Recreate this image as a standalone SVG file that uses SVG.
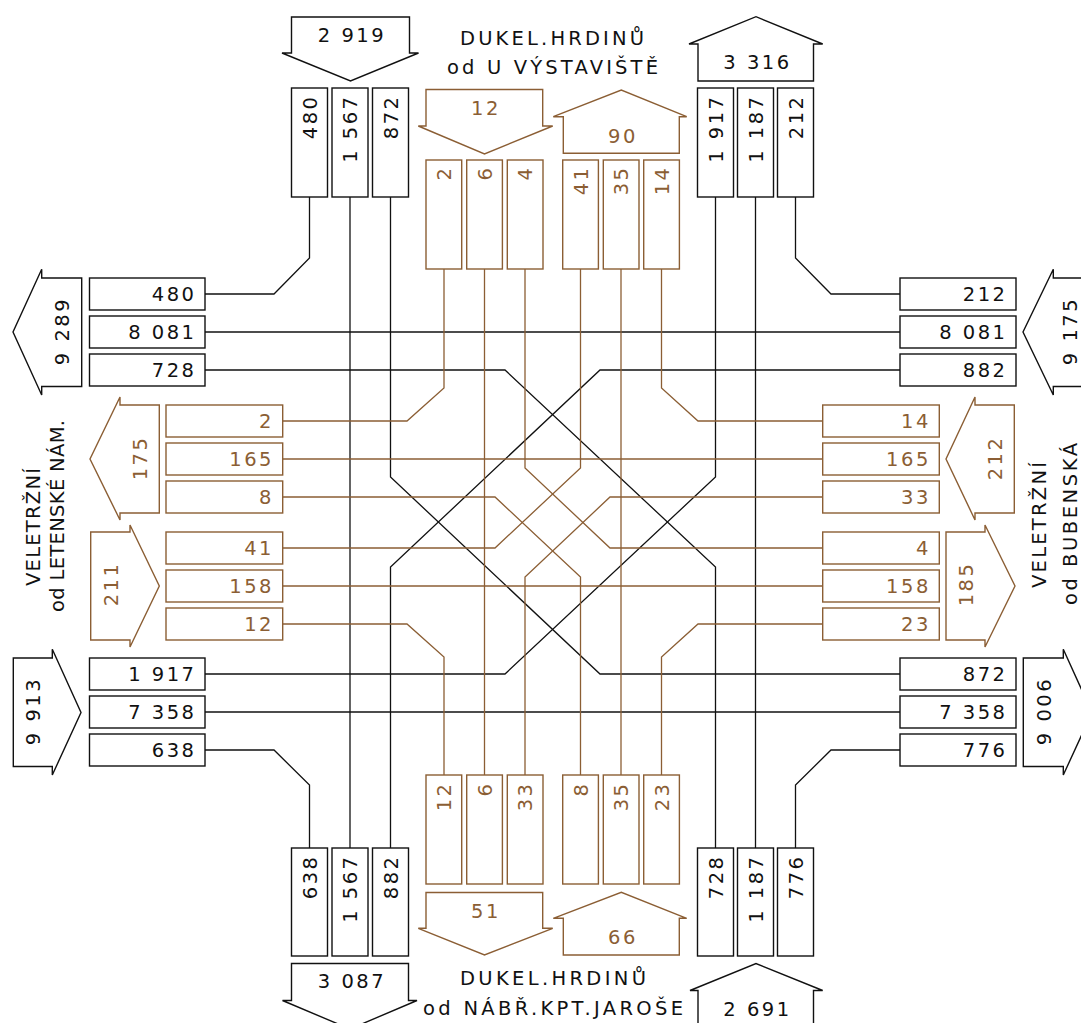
<svg xmlns="http://www.w3.org/2000/svg" width="1081" height="1023" viewBox="0 0 1081 1023">
<style>
.b{fill:#fff;stroke:#111;stroke-width:1.4}
.o{fill:#fff;stroke:#8B5E34;stroke-width:1.4}
.lb{fill:none;stroke:#111;stroke-width:1.3}
.lo{fill:none;stroke:#8B5E34;stroke-width:1.3}
text{font-family:"DejaVu Sans","Liberation Sans",sans-serif;font-size:19.5px;letter-spacing:2.5px;fill:#111}
.to{fill:#8B5E34}
.e{text-anchor:end}
.m{text-anchor:middle}
.lab{letter-spacing:0;font-size:19.5px}
</style>
<rect width="1081" height="1023" fill="#fff"/>

<g id="connectors">
<g class="lb">
<path d="M309.5,197 V258 L274,294 H205"/>
<path d="M350,197 V848"/>
<path d="M390.5,197 V477 L600,674 H900"/>
<path d="M715.5,197 V477 L505,674 H205"/>
<path d="M755.5,197 V848"/>
<path d="M795.5,197 V258 L831,294 H900"/>
<path d="M205,332 H900"/>
<path d="M205,370 H505 L715.5,567 V848"/>
<path d="M900,370 H600 L390.5,567 V848"/>
<path d="M205,712 H900"/>
<path d="M205,750 H274 L309.5,785 V848"/>
<path d="M900,750 H831 L795.5,785 V848"/>
</g>
<g class="lo">
<path d="M444,269 V388 L407,421 H282.7"/>
<path d="M484.5,269 V775"/>
<path d="M525,269 V468 L610,548 H822.7"/>
<path d="M580.5,269 V468 L495,548 H282.7"/>
<path d="M621,269 V775"/>
<path d="M661.5,269 V388 L698,421 H822.7"/>
<path d="M282.7,459 H822.7"/>
<path d="M282.7,586 H822.7"/>
<path d="M282.7,497 H495 L580.5,577 V775"/>
<path d="M822.7,497 H610 L525,577 V775"/>
<path d="M282.7,624 H407 L444,657 V775"/>
<path d="M822.7,624 H698 L661.5,657 V775"/>
</g>
</g>

<g id="label-north">
<text class="lab" x="460" y="45" textLength="184" lengthAdjust="spacing">DUKEL.HRDINŮ</text>
<text class="lab" x="447" y="74" textLength="211" lengthAdjust="spacing">od U VÝSTAVIŠTĚ</text>
</g>
<g id="label-south">
<text class="lab" x="460" y="985" textLength="186" lengthAdjust="spacing">DUKEL.HRDINŮ</text>
<text class="lab" x="423" y="1015" textLength="260" lengthAdjust="spacing">od NÁBŘ.KPT.JAROŠE</text>
</g>
<g id="label-west">
<text class="lab" transform="translate(40,586) rotate(-90)" textLength="118" lengthAdjust="spacing">VELETRŽNÍ</text>
<text class="lab" transform="translate(64,612) rotate(-90)" textLength="192" lengthAdjust="spacing">od LETENSKÉ NÁM.</text>
</g>
<g id="label-east">
<text class="lab" transform="translate(1046,588) rotate(-90)" textLength="126" lengthAdjust="spacing">VELETRŽNÍ</text>
<text class="lab" transform="translate(1077,605) rotate(-90)" textLength="162" lengthAdjust="spacing">od BUBENSKÁ</text>
</g>

<g id="arrow-2919"><path class="b" d="M291.5,17 H409.5 V53 H418.5 L350.5,81 L282,53 H291.5 Z"/><text class="m" x="352" y="42">2 919</text></g>
<g id="arrow-3316"><path class="b" d="M698,81 V44 H689 L756,16.7 L822.7,44 H813.5 V81 Z"/><text class="m" x="757.5" y="69">3 316</text></g>
<g id="arrow-3087"><path class="b" d="M291.5,963.5 H408.5 V1000.5 H417 L350,1029 L282.5,1000.5 H291.5 Z"/><text class="m" x="352" y="988">3 087</text></g>
<g id="arrow-2691"><path class="b" d="M698,1030 V990.5 H690 L756,963.5 L822.7,990.5 H813.5 V1030 Z"/><text class="m" x="757.5" y="1016">2 691</text></g>
<g id="arrow-9289"><path class="b" d="M81.7,278 V386.5 H41.7 V395 L13,332 L41.7,269.3 V278 Z"/><text class="m" transform="translate(68.5,331) rotate(-90)">9 289</text></g>
<g id="arrow-9175"><path class="b" d="M1095,278 H1053.3 V269.3 L1023,332 L1053.3,395 V386.5 H1095 Z"/><text class="m" transform="translate(1077,331) rotate(-90)">9 175</text></g>
<g id="arrow-9913"><path class="b" d="M13.3,658 H52.3 V649.3 L81,712.5 L52.3,775 V766.5 H13.3 Z"/><text class="m" transform="translate(40,711) rotate(-90)">9 913</text></g>
<g id="arrow-9006"><path class="b" d="M1023.3,658 H1063.3 V649.3 L1092,712.5 L1063.3,775 V766.5 H1023.3 Z"/><text class="m" transform="translate(1050.5,711) rotate(-90)">9 006</text></g>

<g id="arrow-12"><path class="o" d="M426,89.5 H542.7 V126 H552.7 L484.5,154 L418.3,126 H426 Z"/><text class="m to" x="486" y="114.5">12</text></g>
<g id="arrow-90"><path class="o" d="M563.3,153.3 V116.7 H553.3 L621.3,90 L686.7,116.7 H679.3 V153.3 Z"/><text class="m to" x="623" y="142.5">90</text></g>
<g id="arrow-51"><path class="o" d="M426,892.5 H542.7 V928.3 H552.7 L484.5,955 L418.3,928.3 H426 Z"/><text class="m to" x="486" y="917.5">51</text></g>
<g id="arrow-66"><path class="o" d="M563.3,955 V918.3 H553.3 L621.3,892.3 L686.7,918.3 H679.3 V955 Z"/><text class="m to" x="623" y="943.5">66</text></g>
<g id="arrow-175"><path class="o" d="M159.3,405 V513 H120 V520 L90,459 L120,397 V405 Z"/><text class="m to" transform="translate(147,458) rotate(-90)">175</text></g>
<g id="arrow-211"><path class="o" d="M90.7,532 H130 V525 L159.3,586 L130,647 V640 H90.7 Z"/><text class="m to" transform="translate(117.5,584) rotate(-90)">211</text></g>
<g id="arrow-212"><path class="o" d="M1014.3,405 V513 H975 V520 L946,459 L975,397 V405 Z"/><text class="m to" transform="translate(1002,458) rotate(-90)">212</text></g>
<g id="arrow-185"><path class="o" d="M946,532 H985 V525 L1015,586 L985,647 V640 H946 Z"/><text class="m to" transform="translate(972.5,584) rotate(-90)">185</text></g>

<g id="n-top-480"><rect class="b" x="291.5" y="88" width="36" height="109"/><text class="e" transform="translate(316.5,94.5) rotate(-90)">480</text></g>
<g id="n-top-1567"><rect class="b" x="332" y="88" width="36" height="109"/><text class="e" transform="translate(357,94.5) rotate(-90)">1 567</text></g>
<g id="n-top-872"><rect class="b" x="372.5" y="88" width="36" height="109"/><text class="e" transform="translate(397.5,94.5) rotate(-90)">872</text></g>
<g id="n-top-1917"><rect class="b" x="697.5" y="88" width="36" height="109"/><text class="e" transform="translate(722.5,94.5) rotate(-90)">1 917</text></g>
<g id="n-top-1187"><rect class="b" x="737.5" y="88" width="36" height="109"/><text class="e" transform="translate(762.5,94.5) rotate(-90)">1 187</text></g>
<g id="n-top-212"><rect class="b" x="777.5" y="88" width="36" height="109"/><text class="e" transform="translate(802.5,94.5) rotate(-90)">212</text></g>

<g id="n-bot-638"><rect class="b" x="291.5" y="848" width="36" height="108"/><text class="e" transform="translate(316.5,854.5) rotate(-90)">638</text></g>
<g id="n-bot-1567"><rect class="b" x="332" y="848" width="36" height="108"/><text class="e" transform="translate(357,854.5) rotate(-90)">1 567</text></g>
<g id="n-bot-882"><rect class="b" x="372.5" y="848" width="36" height="108"/><text class="e" transform="translate(397.5,854.5) rotate(-90)">882</text></g>
<g id="n-bot-728"><rect class="b" x="697.5" y="848" width="36" height="108"/><text class="e" transform="translate(722.5,854.5) rotate(-90)">728</text></g>
<g id="n-bot-1187"><rect class="b" x="737.5" y="848" width="36" height="108"/><text class="e" transform="translate(762.5,854.5) rotate(-90)">1 187</text></g>
<g id="n-bot-776"><rect class="b" x="777.5" y="848" width="36" height="108"/><text class="e" transform="translate(802.5,854.5) rotate(-90)">776</text></g>

<g id="n-left-480"><rect class="b" x="89.5" y="278" width="115.5" height="32"/><text class="e" x="196.5" y="301">480</text></g>
<g id="n-left-8081"><rect class="b" x="89.5" y="316" width="115.5" height="32"/><text class="e" x="196.5" y="339">8 081</text></g>
<g id="n-left-728"><rect class="b" x="89.5" y="354" width="115.5" height="32"/><text class="e" x="196.5" y="377">728</text></g>
<g id="n-left-1917"><rect class="b" x="89.5" y="658" width="115.5" height="32"/><text class="e" x="196.5" y="681">1 917</text></g>
<g id="n-left-7358"><rect class="b" x="89.5" y="696" width="115.5" height="32"/><text class="e" x="196.5" y="719">7 358</text></g>
<g id="n-left-638"><rect class="b" x="89.5" y="734" width="115.5" height="32"/><text class="e" x="196.5" y="757">638</text></g>

<g id="n-right-212"><rect class="b" x="900" y="278" width="116" height="32"/><text class="e" x="1007.5" y="301">212</text></g>
<g id="n-right-8081"><rect class="b" x="900" y="316" width="116" height="32"/><text class="e" x="1007.5" y="339">8 081</text></g>
<g id="n-right-882"><rect class="b" x="900" y="354" width="116" height="32"/><text class="e" x="1007.5" y="377">882</text></g>
<g id="n-right-872"><rect class="b" x="900" y="658" width="116" height="32"/><text class="e" x="1007.5" y="681">872</text></g>
<g id="n-right-7358"><rect class="b" x="900" y="696" width="116" height="32"/><text class="e" x="1007.5" y="719">7 358</text></g>
<g id="n-right-776"><rect class="b" x="900" y="734" width="116" height="32"/><text class="e" x="1007.5" y="757">776</text></g>

<g id="o-left-2"><rect class="o" x="166" y="405" width="116.7" height="32"/><text class="e to" x="274" y="428">2</text></g>
<g id="o-left-165"><rect class="o" x="166" y="443" width="116.7" height="32"/><text class="e to" x="274" y="466">165</text></g>
<g id="o-left-8"><rect class="o" x="166" y="481" width="116.7" height="32"/><text class="e to" x="274" y="504">8</text></g>
<g id="o-left-41"><rect class="o" x="166" y="532" width="116.7" height="32"/><text class="e to" x="274" y="555">41</text></g>
<g id="o-left-158"><rect class="o" x="166" y="570" width="116.7" height="32"/><text class="e to" x="274" y="593">158</text></g>
<g id="o-left-12"><rect class="o" x="166" y="608" width="116.7" height="32"/><text class="e to" x="274" y="631">12</text></g>

<g id="o-right-14"><rect class="o" x="822.7" y="405" width="116.6" height="32"/><text class="e to" x="930.8" y="428">14</text></g>
<g id="o-right-165"><rect class="o" x="822.7" y="443" width="116.6" height="32"/><text class="e to" x="930.8" y="466">165</text></g>
<g id="o-right-33"><rect class="o" x="822.7" y="481" width="116.6" height="32"/><text class="e to" x="930.8" y="504">33</text></g>
<g id="o-right-4"><rect class="o" x="822.7" y="532" width="116.6" height="32"/><text class="e to" x="930.8" y="555">4</text></g>
<g id="o-right-158"><rect class="o" x="822.7" y="570" width="116.6" height="32"/><text class="e to" x="930.8" y="593">158</text></g>
<g id="o-right-23"><rect class="o" x="822.7" y="608" width="116.6" height="32"/><text class="e to" x="930.8" y="631">23</text></g>

<g id="o-top-2"><rect class="o" x="426" y="160" width="35.7" height="109"/><text class="e to" transform="translate(451,165.5) rotate(-90)">2</text></g>
<g id="o-top-6"><rect class="o" x="466.7" y="160" width="35.7" height="109"/><text class="e to" transform="translate(491.5,165.5) rotate(-90)">6</text></g>
<g id="o-top-4"><rect class="o" x="507.3" y="160" width="35.7" height="109"/><text class="e to" transform="translate(532,165.5) rotate(-90)">4</text></g>
<g id="o-top-41"><rect class="o" x="562.7" y="160" width="35.7" height="109"/><text class="e to" transform="translate(587.5,165.5) rotate(-90)">41</text></g>
<g id="o-top-35"><rect class="o" x="603.3" y="160" width="35.7" height="109"/><text class="e to" transform="translate(628,165.5) rotate(-90)">35</text></g>
<g id="o-top-14"><rect class="o" x="643.7" y="160" width="35.7" height="109"/><text class="e to" transform="translate(668.5,165.5) rotate(-90)">14</text></g>

<g id="o-bot-12"><rect class="o" x="426" y="775" width="35.7" height="109"/><text class="e to" transform="translate(451,781.5) rotate(-90)">12</text></g>
<g id="o-bot-6"><rect class="o" x="466.7" y="775" width="35.7" height="109"/><text class="e to" transform="translate(491.5,781.5) rotate(-90)">6</text></g>
<g id="o-bot-33"><rect class="o" x="507.3" y="775" width="35.7" height="109"/><text class="e to" transform="translate(532,781.5) rotate(-90)">33</text></g>
<g id="o-bot-8"><rect class="o" x="562.7" y="775" width="35.7" height="109"/><text class="e to" transform="translate(587.5,781.5) rotate(-90)">8</text></g>
<g id="o-bot-35"><rect class="o" x="603.3" y="775" width="35.7" height="109"/><text class="e to" transform="translate(628,781.5) rotate(-90)">35</text></g>
<g id="o-bot-23"><rect class="o" x="643.7" y="775" width="35.7" height="109"/><text class="e to" transform="translate(668.5,781.5) rotate(-90)">23</text></g>
</svg>
